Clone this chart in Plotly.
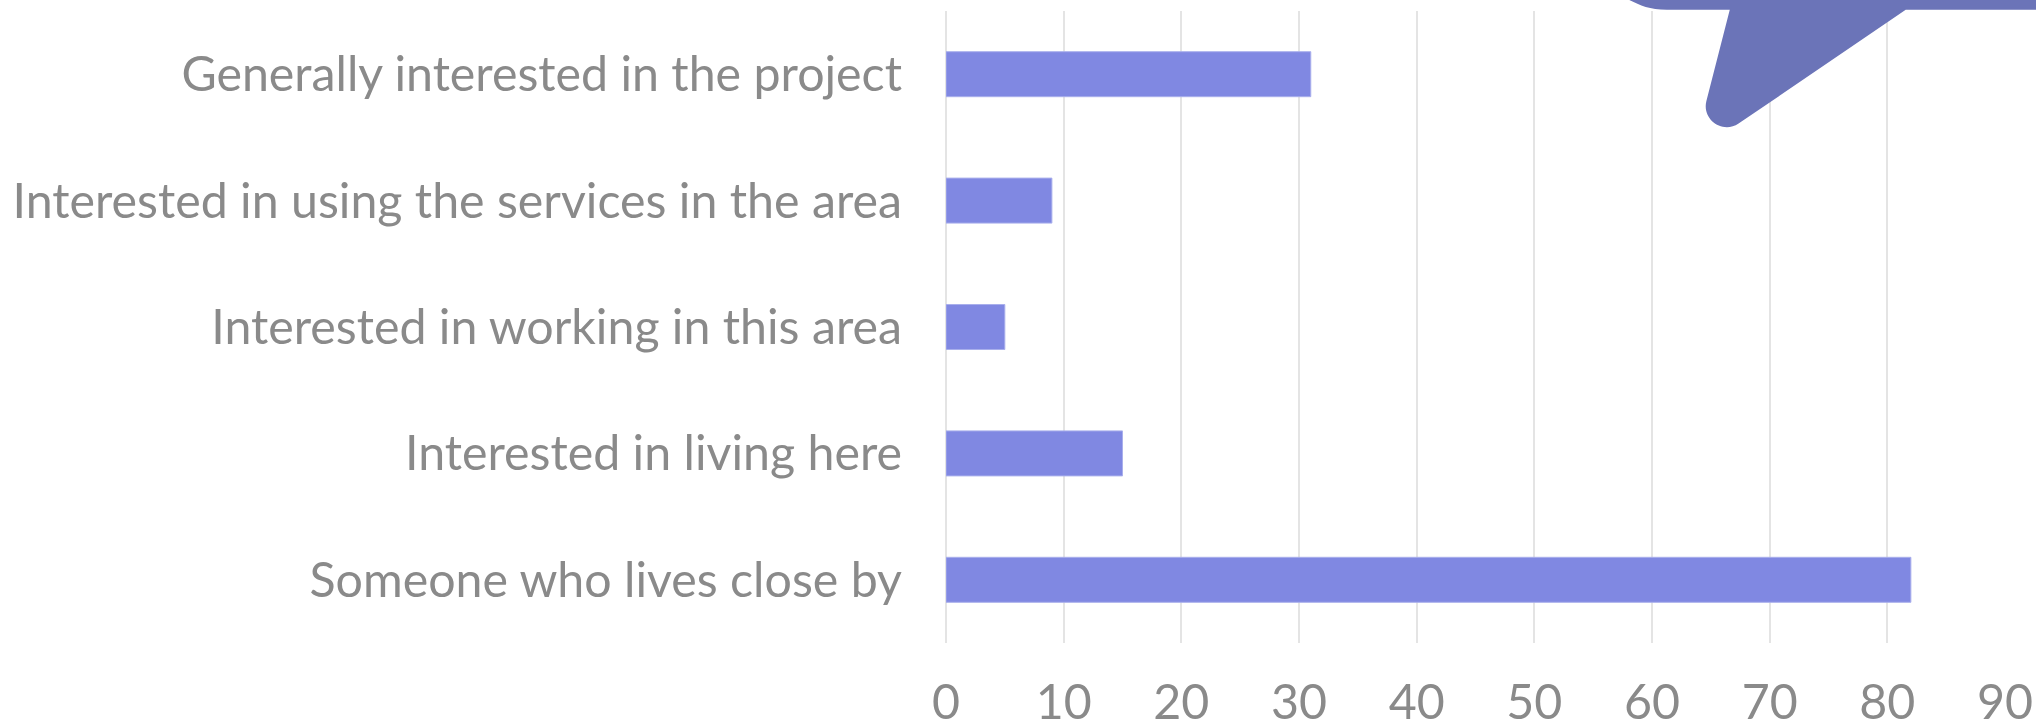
import plotly.graph_objects as go

categories = [
    "Someone who lives close by",
    "Interested in living here",
    "Interested in working in this area",
    "Interested in using the services in the area",
    "Generally interested in the project",
]
responses = [82, 15, 5, 9, 31]
tick_values = [0, 10, 20, 30, 40, 50, 60, 70, 80, 90]

WIDTH, HEIGHT = 2036, 727
LEFT, RIGHT, TOP, BOTTOM = 946.0, 2005.3, 10.8, 642.7


def to_paper(px, py):
    """Convert page pixels into plot-area paper coordinates."""
    return (px - LEFT) / (RIGHT - LEFT), (BOTTOM - py) / (BOTTOM - TOP)


def callout_path(commands):
    parts = []
    for op, *pts in commands:
        coords = [to_paper(pts[i], pts[i + 1]) for i in range(0, len(pts), 2)]
        parts.append(op + " ".join(f"{x:.5f},{y:.5f}" for x, y in coords))
    return " ".join(parts) + " Z"


# Speech bubble running off the top edge, with its tail pointing down-left
bubble = callout_path([
    ("M", 2040, -12),
    ("L", 2040, 9.5),
    ("L", 1906, 9.5),
    ("L", 1738.8, 123.4),
    ("C", 1722.8, 134.2, 1701.9, 119.5, 1706.6, 100.8),
    ("L", 1730, 9.5),
    ("L", 1667, 9.5),
    ("C", 1650, 9.5, 1640, 5, 1630, 0),
    ("L", 1606, -12),
])

fig = go.Figure(
    go.Bar(
        y=categories,
        x=responses,
        orientation="h",
        marker=dict(color="#8088e2", line=dict(color="#a9afec", width=1)),
        hoverinfo="skip",
    )
)

fig.update_layout(
    width=WIDTH,
    height=HEIGHT,
    margin=dict(l=LEFT, r=WIDTH - RIGHT, t=TOP, b=HEIGHT - BOTTOM, autoexpand=False),
    paper_bgcolor="white",
    plot_bgcolor="white",
    bargap=0.644,
    showlegend=False,
    font=dict(family="Lato", size=48.3, color="#8a8a8a"),
    shapes=[
        dict(
            type="path",
            xref="paper",
            yref="paper",
            path=bubble,
            fillcolor="#6b74b8",
            line=dict(width=0),
            layer="above",
        )
    ],
)
fig.update_xaxes(
    range=[0, 90],
    tickvals=tick_values,
    showgrid=True,
    gridcolor="#e4e4e4",
    gridwidth=2,
    zeroline=True,
    zerolinecolor="#e4e4e4",
    zerolinewidth=2,
    showline=False,
    ticks="outside",
    ticklen=0,
    ticklabelstandoff=17,
)
fig.update_yaxes(
    categoryorder="array",
    categoryarray=categories,
    showgrid=False,
    zeroline=False,
    showline=False,
    ticks="",
    ticklabelstandoff=43,
)

fig.write_html("out.html")
